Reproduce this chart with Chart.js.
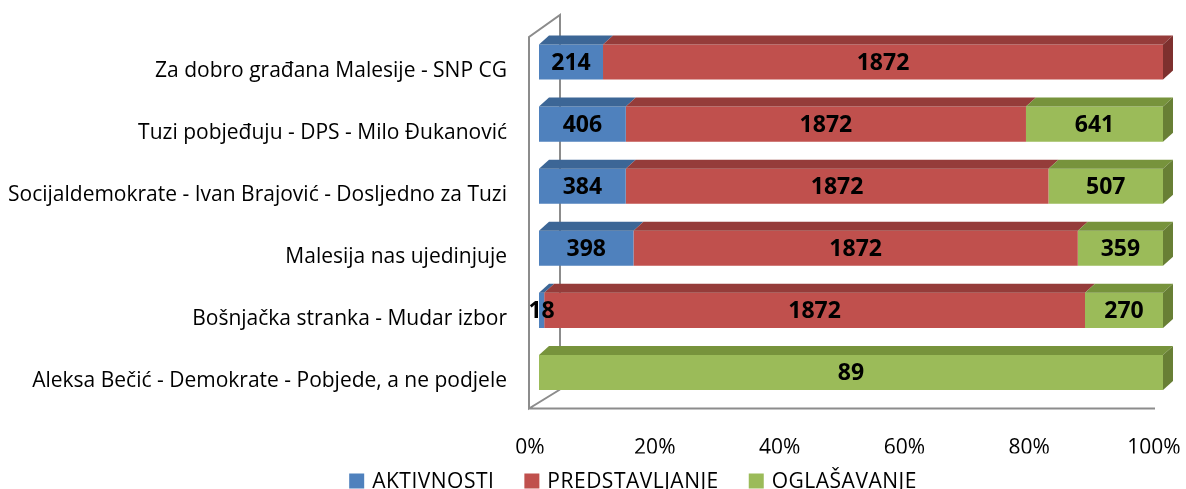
<!DOCTYPE html>
<html>
<head>
<meta charset="utf-8">
<script src="https://cdn.jsdelivr.net/npm/chart.js@4"></script>
<style>
    html, body { margin: 0; padding: 0; background: #fff; }
    canvas { display: block; }
</style>
</head>
<body>
<canvas id="chart" width="1186" height="489"></canvas>
<script>
const categories = [
    'Za dobro građana Malesije - SNP CG',
    'Tuzi pobjeđuju - DPS - Milo Đukanović',
    'Socijaldemokrate - Ivan Brajović - Dosljedno za Tuzi',
    'Malesija nas ujedinjuje',
    'Bošnjačka stranka - Mudar izbor',
    'Aleksa Bečić - Demokrate - Pobjede, a ne podjele',
];
const seriesNames = ['AKTIVNOSTI', 'PREDSTAVLJANJE', 'OGLAŠAVANJE'];
const aktivnosti     = [214, 406, 384, 398, 18, 0];
const predstavljanje = [1872, 1872, 1872, 1872, 1872, 0];
const oglasavanje    = [0, 641, 507, 359, 270, 89];
const xTicks = [0, 20, 40, 60, 80, 100];

const FONT = '"Open Sans", Lato, sans-serif';
const FRONT = ['#4f81bd', '#c0504d', '#9bbb59'];
const TOP   = ['#3c6696', '#953c3a', '#77933c'];
const SIDE  = ['#335880', '#7e302e', '#687f35'];
const DX = 10, DY = 9;

const rawSeries = [aktivnosti, predstavljanje, oglasavanje];
const totals = categories.map((_, i) => rawSeries.reduce((s, arr) => s + arr[i], 0));
const pct = arr => arr.map((v, i) => totals[i] ? v / totals[i] * 100 : 0);

// back wall, side wall and floor edges
const wallPlugin = {
    id: 'wall',
    beforeDatasetsDraw(chart) {
        const { ctx, chartArea: a } = chart;
        const x0 = a.left - 10, xb = a.left + 21, yTop = 15, yTopF = 37;
        const yb = a.bottom - 14, yf = a.bottom + 5;
        ctx.save();
        ctx.strokeStyle = '#8c8c8c';
        ctx.lineWidth = 2;
        ctx.beginPath();
        ctx.moveTo(xb, yb); ctx.lineTo(xb, yTop); ctx.lineTo(x0, yTopF);
        ctx.lineTo(x0, yf); ctx.lineTo(xb, yb);
        ctx.moveTo(x0, yf); ctx.lineTo(a.right - 8, yf);
        ctx.stroke();
        ctx.restore();
    },
};

// 3D top and end faces, then the value labels
const depthPlugin = {
    id: 'depth',
    afterDatasetsDraw(chart) {
        const { ctx } = chart;
        ctx.save();
        categories.forEach((_, i) => {
            let last = -1;
            chart.data.datasets.forEach((ds, d) => {
                const el = chart.getDatasetMeta(d).data[i];
                if (!rawSeries[d][i]) return;
                last = d;
                const xl = el.base, xr = el.x, yt = el.y - el.height / 2;
                ctx.fillStyle = TOP[d];
                ctx.beginPath();
                ctx.moveTo(xl, yt); ctx.lineTo(xr, yt);
                ctx.lineTo(xr + DX, yt - DY); ctx.lineTo(xl + DX, yt - DY);
                ctx.closePath(); ctx.fill();
            });
            if (last >= 0) {
                const el = chart.getDatasetMeta(last).data[i];
                const xr = el.x, yt = el.y - el.height / 2, yb = el.y + el.height / 2;
                ctx.fillStyle = SIDE[last];
                ctx.beginPath();
                ctx.moveTo(xr, yt); ctx.lineTo(xr + DX, yt - DY);
                ctx.lineTo(xr + DX, yb - DY); ctx.lineTo(xr, yb);
                ctx.closePath(); ctx.fill();
            }
        });
        ctx.fillStyle = '#000';
        ctx.font = 'bold 23px ' + FONT;
        ctx.textAlign = 'center';
        ctx.textBaseline = 'middle';
        chart.data.datasets.forEach((ds, d) => {
            chart.getDatasetMeta(d).data.forEach((el, i) => {
                const v = rawSeries[d][i];
                if (!v) return;
                ctx.fillText(String(v), (el.base + el.x) / 2, el.y + 1);
            });
        });
        ctx.restore();
    },
};

// legend row drawn under the axis
const legendPlugin = {
    id: 'legendRow',
    afterDraw(chart) {
        const { ctx } = chart;
        ctx.save();
        ctx.font = '21px ' + FONT;
        ctx.letterSpacing = '0.5px';
        ctx.textBaseline = 'middle';
        const box = 15, gap = 8, spacing = 30;
        const widths = chart.data.datasets.map(ds => box + gap + ctx.measureText(ds.label).width);
        const total = widths.reduce((s, w) => s + w, 0) + spacing * (widths.length - 1);
        let x = 633 - total / 2;
        const y = 481;
        chart.data.datasets.forEach((ds, d) => {
            ctx.fillStyle = ds.backgroundColor;
            ctx.fillRect(x, y - box / 2, box, box);
            ctx.fillStyle = '#000';
            ctx.fillText(ds.label, x + box + gap, y + 1);
            x += widths[d] + spacing;
        });
        ctx.restore();
    },
};

new Chart(document.getElementById('chart'), {
    type: 'bar',
    data: {
        labels: categories,
        datasets: seriesNames.map((name, d) => ({
            label: name,
            data: pct(rawSeries[d]),
            backgroundColor: FRONT[d],
            borderWidth: 0,
            barPercentage: 0.8,
            categoryPercentage: 0.705,
        })),
    },
    options: {
        responsive: false,
        animation: false,
        indexAxis: 'y',
        layout: { padding: { top: 31, right: 23, left: 0, bottom: 35.5 } },
        scales: {
            x: {
                stacked: true,
                min: 0, max: 100,
                afterBuildTicks(scale) { scale.ticks = xTicks.map(v => ({ value: v })); },
                afterFit(scale) {
                    scale.height = 50;
                    scale.paddingLeft = 0;
                    scale.paddingRight = 0;
                },
                ticks: {
                    color: '#000',
                    font: { family: FONT, size: 21 },
                    padding: 32,
                    labelOffset: -9,
                    callback: v => v + '%',
                },
                grid: { display: false, drawTicks: false },
                border: { display: false },
            },
            y: {
                stacked: true,
                afterFit(scale) {
                    scale.width = 539;
                    scale.paddingTop = 0;
                    scale.paddingBottom = 0;
                },
                ticks: {
                    color: '#000',
                    font: { family: FONT, size: 21 },
                    padding: 32,
                    labelOffset: 9,
                },
                grid: { display: false, drawTicks: false },
                border: { display: false },
            },
        },
        plugins: {
            legend: { display: false },
            tooltip: { enabled: false },
        },
    },
    plugins: [wallPlugin, depthPlugin, legendPlugin],
});
</script>
</body>
</html>
